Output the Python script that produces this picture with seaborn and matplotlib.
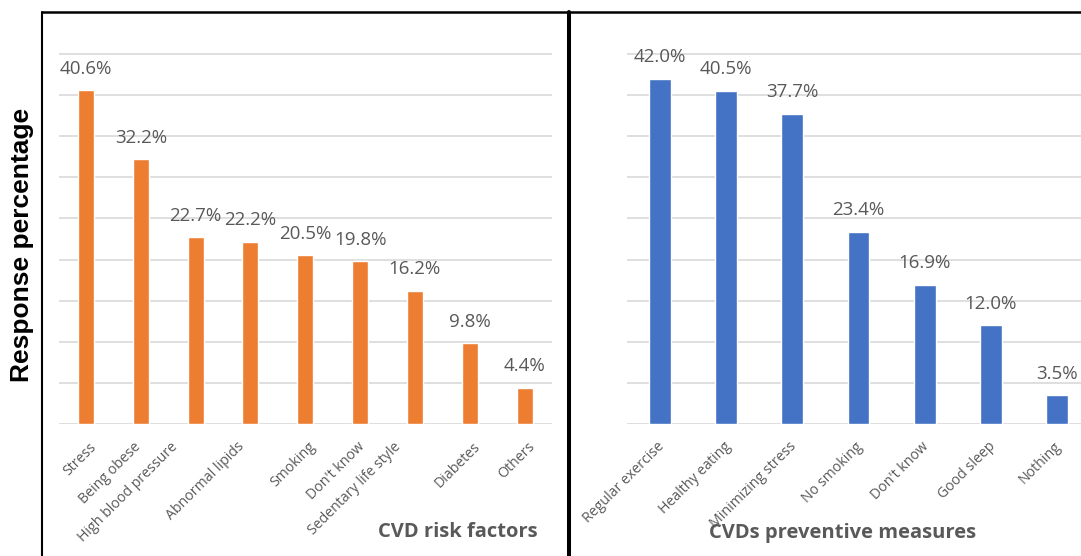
import matplotlib
matplotlib.use("Agg")
import matplotlib.pyplot as plt
from matplotlib.lines import Line2D
from matplotlib.transforms import ScaledTranslation
import seaborn as sns
import pandas as pd

# Survey responses (% of respondents)
risk_factors = ["Stress", "Being obese", "High blood pressure", "Abnormal lipids",
                "Smoking", "Don't know", "Sedentary life style", "Diabetes", "Others"]
risk_pct = [40.6, 32.2, 22.7, 22.2, 20.5, 19.8, 16.2, 9.8, 4.4]

measures = ["Regular exercise", "Healthy eating", "Minimizing stress", "No smoking",
            "Don't know", "Good sleep", "Nothing"]
measure_pct = [42.0, 40.5, 37.7, 23.4, 16.9, 12.0, 3.5]

y_ticks = [0, 5, 10, 15, 20, 25, 30, 35, 40, 45]

sns.set_theme(style="white")
plt.rcParams["font.family"] = ["Open Sans", "DejaVu Sans"]

W, H, DPI = 1081, 556, 100
fig = plt.figure(figsize=(W / DPI, H / DPI), dpi=DPI)

GREY = "#595959"
GRID = "#D9D9D9"

# staggered placement of the longer category labels (pixels, horizontal)
label_shift = {"Being obese": -10, "High blood pressure": -28, "Abnormal lipids": -17,
               "Don't know": -6, "Sedentary life style": -25}


def panel(rect, cats, vals, color, width, title, title_xy, base_dx, shifts=None):
    shifts = shifts or {}
    ax = fig.add_axes(rect)
    df = pd.DataFrame({"cat": cats, "pct": vals})
    sns.barplot(data=df, x="cat", y="pct", color=color, width=width,
                saturation=1, ax=ax, zorder=3)
    ax.set_ylim(0, 50)
    ax.set_xlim(-0.5, len(cats) - 0.5)
    ax.set_yticks(y_ticks)
    ax.yaxis.grid(True, color=GRID, lw=1.2, zorder=0)
    ax.tick_params(axis="y", left=False, labelleft=False)
    ax.tick_params(axis="x", bottom=False, pad=5)
    for s in ax.spines.values():
        s.set_visible(False)
    ax.set_xlabel("")
    ax.set_ylabel("")
    ax.set_xticks(range(len(cats)))
    labels = ax.set_xticklabels(cats, rotation=45, ha="right", va="top",
                                rotation_mode="anchor", fontsize=10.2, color=GREY)
    for lab in labels:
        dx = base_dx + shifts.get(lab.get_text(), 0)
        lab.set_transform(lab.get_transform() +
                          ScaledTranslation(dx / DPI, 0, fig.dpi_scale_trans))
    for i, v in enumerate(vals):
        ax.annotate(f"{v:.1f}%", (i, v), xytext=(0, 12), textcoords="offset points",
                    ha="center", va="baseline", fontsize=13.5, color=GREY)
    fig.text(title_xy[0] / W, 1 - title_xy[1] / H, title, ha="center", va="center",
             fontsize=14.5, fontweight="bold", color=GREY)
    return ax


ax1 = panel([58.5 / W, 132 / H, 493.5 / W, 411 / H], risk_factors, risk_pct,
            "#ED7D31", 0.29, "CVD risk factors", (458, 532), 3, label_shift)
ax2 = panel([627 / W, 132 / H, 463 / W, 411 / H], measures, measure_pct,
            "#4472C4", 0.33, "CVDs preventive measures", (843, 533), -3)

fig.text(22 / W, 1 - 245 / H, "Response percentage", rotation=90, ha="center",
         va="center", fontsize=19, fontweight="bold", color="black",
         family=["Liberation Sans", "DejaVu Sans"])

# Panel frames
top = 1 - 11.5 / H
fig.add_artist(Line2D([42 / W, 42 / W], [0, top], color="black", lw=1.5))
fig.add_artist(Line2D([42 / W, 1], [top, top], color="black", lw=1.8))
fig.add_artist(Line2D([569 / W, 569 / W], [0, top], color="black", lw=2.9))

fig.savefig("out.png", dpi=DPI)
